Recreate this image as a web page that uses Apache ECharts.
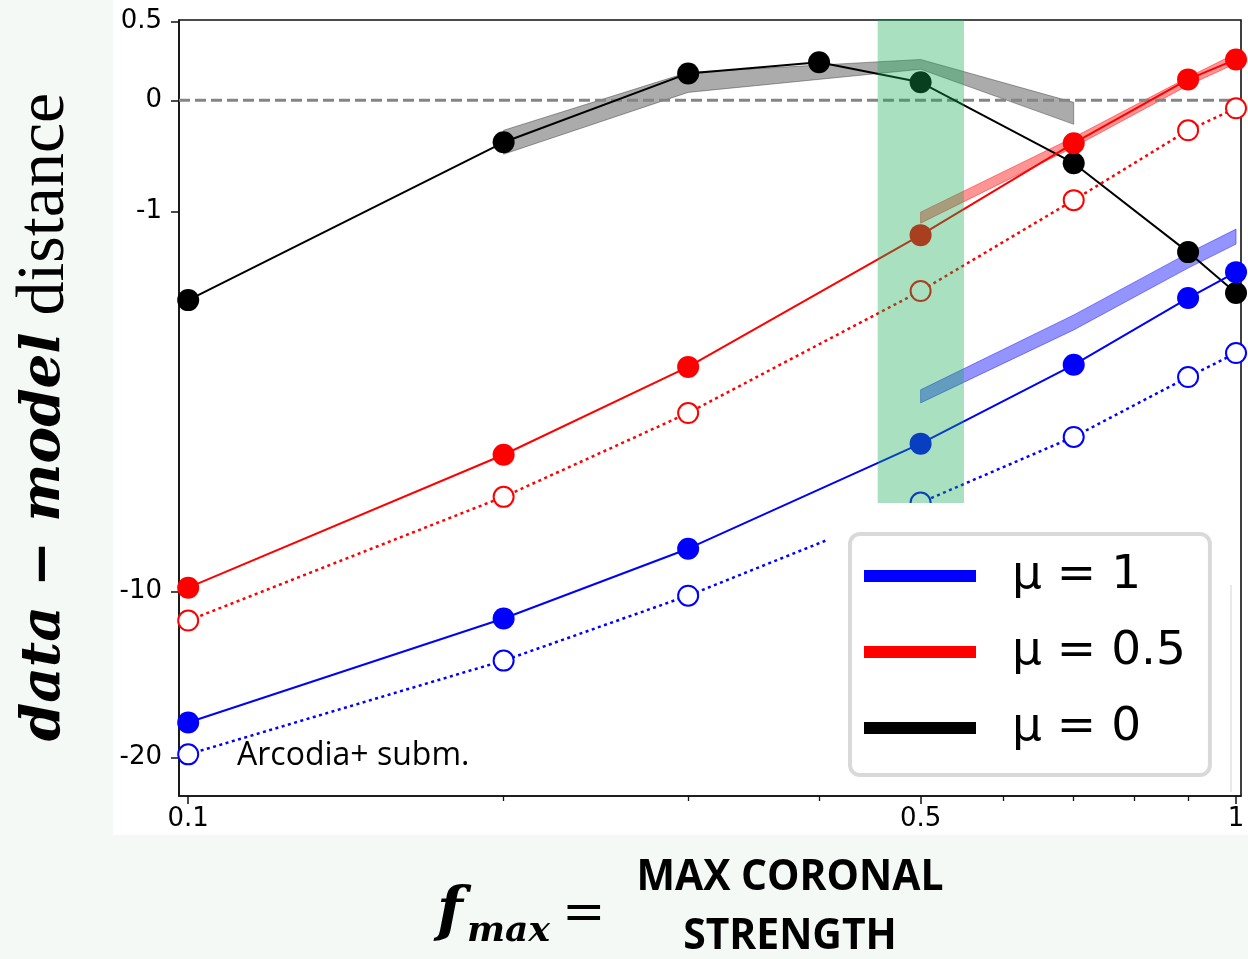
<!DOCTYPE html>
<html><head><meta charset="utf-8">
<script src="https://cdn.jsdelivr.net/npm/echarts@6/dist/echarts.min.js"></script>
<style>html,body{margin:0;padding:0;background:#f4f9f6}#c{width:1248px;height:959px}</style>
</head><body><div id="c"></div>
<script>
// ---- tick definitions ----
const xTicksMajor = [0.1, 0.5, 1];
const xTickLabels = ['0.1', '0.5', '1'];
const xTicksMinor = [0.2, 0.3, 0.4, 0.6, 0.7, 0.8, 0.9];
const yTicks = [0.5, 0, -1, -10, -20];
const yTickLabels = ['0.5', '0', '-1', '-10', '-20'];

// ---- data (f_max vs data-model distance) ----
const fmax = [0.1, 0.2, 0.3, 0.5, 0.7, 0.9, 1.0];
const fmaxBlack = [0.1, 0.2, 0.3, 0.4, 0.5, 0.7, 0.9, 1.0];
const mu0Filled = [-2.146, -0.331, 0.187, 0.259, 0.127, -0.516, -1.48, -2.04];
const mu05Filled = [-9.84, -5.29, -3.29, -1.271, -0.339, 0.147, 0.277];
const mu05Open = [-11.35, -6.50, -4.26, -2.011, -0.879, -0.231, -0.059];
const mu1Filled = [-17.36, -11.25, -8.27, -5.00, -3.25, -2.115, -1.744];
const mu1Open = [-19.75, -13.45, -10.19, -6.68, -4.83, -3.49, -3.03];

// ---- model bands ----
const band0X = [0.2, 0.3, 0.5, 0.7];
const band0Lo = [-0.435, 0.057, 0.214, -0.183];
const band0Hi = [-0.231, 0.194, 0.277, -0.015];
const band05X = [0.5, 0.7, 0.9, 1.0];
const band05Lo = [-1.131, -0.373, 0.106, 0.252];
const band05Hi = [-1.008, -0.289, 0.161, 0.315];
const band1X = [0.5, 0.7, 0.9, 1.0];
const band1Lo = [-4.033, -2.623, -1.689, -1.380];
const band1Hi = [-3.752, -2.377, -1.493, -1.200];

// highlighted f_max range
const greenX = [0.455, 0.55];
const greenY = [0.508, -6.7];

// reference level and axis ranges
const zeroLevel = 0;
const xRange = [0.098, 1.011];
const yRange = [0.508, -23.32];

const seriesNames = ['μ = 1', 'μ = 0.5', 'μ = 0'];

// ---- scale transforms (log x, log(2 - y) y) ----
const X = x => Math.log10(x);
const Y = v => Math.log10(1 - v / 2);
const near = (a, b) => Math.abs(a - b) < 1e-6;

const chart = echarts.init(document.getElementById('c'), null, {renderer: 'canvas'});

function pts(xs, vs) { return xs.map((x, i) => [X(x), Y(vs[i])]); }

function filledLine(name, xs, vs, color) {
  return {type: 'line', name, data: pts(xs, vs), symbol: 'circle', symbolSize: 22,
    itemStyle: {color}, lineStyle: {color, width: 2}, z: 3, silent: true,
    emphasis: {disabled: true}, animation: false};
}
function openLine(name, xs, vs, color) {
  return {type: 'line', name, data: pts(xs, vs), symbol: 'emptyCircle', symbolSize: 20,
    itemStyle: {color, borderColor: color, borderWidth: 2},
    lineStyle: {color, width: 2.5, type: [3, 3.5]}, z: 3, silent: true,
    emphasis: {disabled: true}, animation: false};
}
function bandSeries(name, xs, lo, hi, fill) {
  return {type: 'custom', name, silent: true, z: 1, animation: false,
    data: xs.map((x, i) => [X(x), Y(lo[i]), Y(hi[i])]),
    encode: {x: 0, y: [1, 2]},
    renderItem(params, api) {
      if (params.dataIndex !== 0) return null;
      const top = xs.map((x, i) => api.coord([X(x), Y(hi[i])]));
      const bot = xs.map((x, i) => api.coord([X(x), Y(lo[i])])).reverse();
      return {type: 'polygon', shape: {points: top.concat(bot)},
        style: {fill, stroke: fill, lineWidth: 1}};
    }};
}

const labelFont = {fontFamily: 'DejaVu Sans', fontSize: 26, color: '#000'};

const option = {
  backgroundColor: '#f4f9f6',
  animation: false,
  grid: {left: 179, right: 7, top: 20, bottom: 163, show: true,
    borderColor: '#111', borderWidth: 1.6, backgroundColor: 'transparent'},
  xAxis: [{
    type: 'value', min: X(xRange[0]), max: X(xRange[1]), position: 'bottom',
    axisLine: {show: true, onZero: false, lineStyle: {color: '#111', width: 1.6}},
    axisTick: {show: true, length: 8, customValues: xTicksMajor.map(X), lineStyle: {color: '#111', width: 1.5}},
    axisLabel: Object.assign({show: true, customValues: xTicksMajor.map(X), margin: 10,
      formatter: v => { const i = xTicksMajor.findIndex(t => near(X(t), v)); return i >= 0 ? xTickLabels[i] : ''; }}, labelFont),
    splitLine: {show: false}
  }, {
    type: 'value', min: X(xRange[0]), max: X(xRange[1]), position: 'bottom',
    axisLine: {show: false, onZero: false},
    axisTick: {show: true, length: 5, customValues: xTicksMinor.map(X), lineStyle: {color: '#111', width: 1.3}},
    axisLabel: {show: false},
    splitLine: {show: false}
  }],
  yAxis: {
    type: 'value', inverse: true, min: Y(yRange[0]), max: Y(yRange[1]),
    axisLine: {show: true, onZero: false, lineStyle: {color: '#111', width: 1.6}},
    axisTick: {show: true, length: 8, customValues: yTicks.map(Y), lineStyle: {color: '#111', width: 1.5}},
    axisLabel: Object.assign({show: true, customValues: yTicks.map(Y), margin: 17,
      formatter: v => { const i = yTicks.findIndex(t => near(Y(t), v)); return i >= 0 ? yTickLabels[i] : ''; }}, labelFont),
    splitLine: {show: false}
  },
  legend: {
    data: seriesNames, selectedMode: false, orient: 'vertical', left: 850, top: 534,
    icon: 'rect', itemWidth: 112, itemHeight: 12, itemGap: 26,
    padding: [17, 24, 22, 14], backgroundColor: '#ffffff', borderColor: '#d9d9d9',
    borderWidth: 4, borderRadius: 10, z: 20,
    textStyle: {fontFamily: 'DejaVu Sans', fontSize: 47, color: '#000', lineHeight: 50, padding: [0, 0, 0, 31]}
  },
  series: [
    bandSeries('band0', band0X, band0Lo, band0Hi, 'rgba(0,0,0,0.33)'),
    bandSeries('band05', band05X, band05Lo, band05Hi, 'rgba(255,0,0,0.42)'),
    bandSeries('band1', band1X, band1Lo, band1Hi, 'rgba(0,0,255,0.42)'),
    {
      type: 'line', name: 'zero', silent: true, z: 2, symbol: 'none', animation: false,
      data: [[X(xRange[0]), Y(zeroLevel)], [X(xRange[1]), Y(zeroLevel)]],
      lineStyle: {color: '#858585', width: 3, type: [11, 5]}, emphasis: {disabled: true}
    },
    filledLine(seriesNames[2], fmaxBlack, mu0Filled, '#000000'),
    openLine('μ = 0.5 (open)', fmax, mu05Open, '#ff0000'),
    filledLine(seriesNames[1], fmax, mu05Filled, '#ff0000'),
    openLine('μ = 1 (open)', fmax, mu1Open, '#0000ff'),
    filledLine(seriesNames[0], fmax, mu1Filled, '#0000ff'),
    {
      type: 'custom', name: 'selected', silent: true, z: 5, animation: false,
      data: [[X(greenX[0]), X(greenX[1]), Y(greenY[0]), Y(greenY[1])]],
      encode: {x: [0, 1], y: [2, 3]},
      renderItem(params, api) {
        const p1 = api.coord([api.value(0), api.value(2)]);
        const p2 = api.coord([api.value(1), api.value(3)]);
        return {type: 'rect', shape: {x: p1[0], y: p1[1], width: p2[0] - p1[0], height: p2[1] - p1[1]},
          style: {fill: 'rgba(20,170,85,0.37)'}};
      }
    }
  ],
  graphic: [
    {type: 'rect', z: -10, shape: {x: 113, y: 0, width: 1135, height: 835}, style: {fill: '#ffffff'}, silent: true},
    {type: 'rect', z: 8, shape: {x: 827, y: 503, width: 403, height: 288}, style: {fill: '#ffffff'}, silent: true},
    {type: 'line', z: 9, shape: {x1: 1231, y1: 585, x2: 1231, y2: 792}, style: {stroke: '#e2e2e2', lineWidth: 1.5}, silent: true},
    {type: 'text', z: 9, x: 237, y: 756, silent: true,
      style: {text: 'Arcodia+ subm.', fontFamily: 'Open Sans', fontSize: 32, fill: '#000', align: 'left', verticalAlign: 'middle'}},
    {type: 'text', z: 9, x: 45, y: 417, rotation: Math.PI / 2, silent: true,
      style: {text: '{a|data − model}{b| distance}', align: 'center', verticalAlign: 'middle', fill: '#000',
        rich: {
          a: {fontFamily: 'DejaVu Serif', fontStyle: 'italic', fontWeight: 'bold', fontSize: 55, fill: '#000'},
          b: {fontFamily: 'Liberation Serif', fontSize: 68, fill: '#000'}
        }}},
    {type: 'text', z: 9, x: 437, y: 914, silent: true,
      style: {text: 'f', fontFamily: 'DejaVu Serif', fontStyle: 'italic', fontWeight: 'bold', fontSize: 60, fill: '#000', align: 'left', verticalAlign: 'middle'}},
    {type: 'text', z: 9, x: 467, y: 932, silent: true,
      style: {text: 'max', fontFamily: 'DejaVu Serif', fontStyle: 'italic', fontWeight: 'bold', fontSize: 36, fill: '#000', align: 'left', verticalAlign: 'middle'}},
    {type: 'text', z: 9, x: 562, y: 915, silent: true,
      style: {text: '=', fontFamily: 'DejaVu Serif', fontSize: 52, fill: '#000', align: 'left', verticalAlign: 'middle'}},
    {type: 'text', z: 9, x: 790, y: 878, scaleX: 0.95, silent: true,
      style: {text: 'MAX CORONAL', fontFamily: 'Open Sans', fontWeight: 'bold', fontSize: 43, fill: '#000', align: 'center', verticalAlign: 'middle'}},
    {type: 'text', z: 9, x: 790, y: 937, scaleX: 0.95, silent: true,
      style: {text: 'STRENGTH', fontFamily: 'Open Sans', fontWeight: 'bold', fontSize: 43, fill: '#000', align: 'center', verticalAlign: 'middle'}}
  ]
};
chart.setOption(option);
</script>
</body></html>
